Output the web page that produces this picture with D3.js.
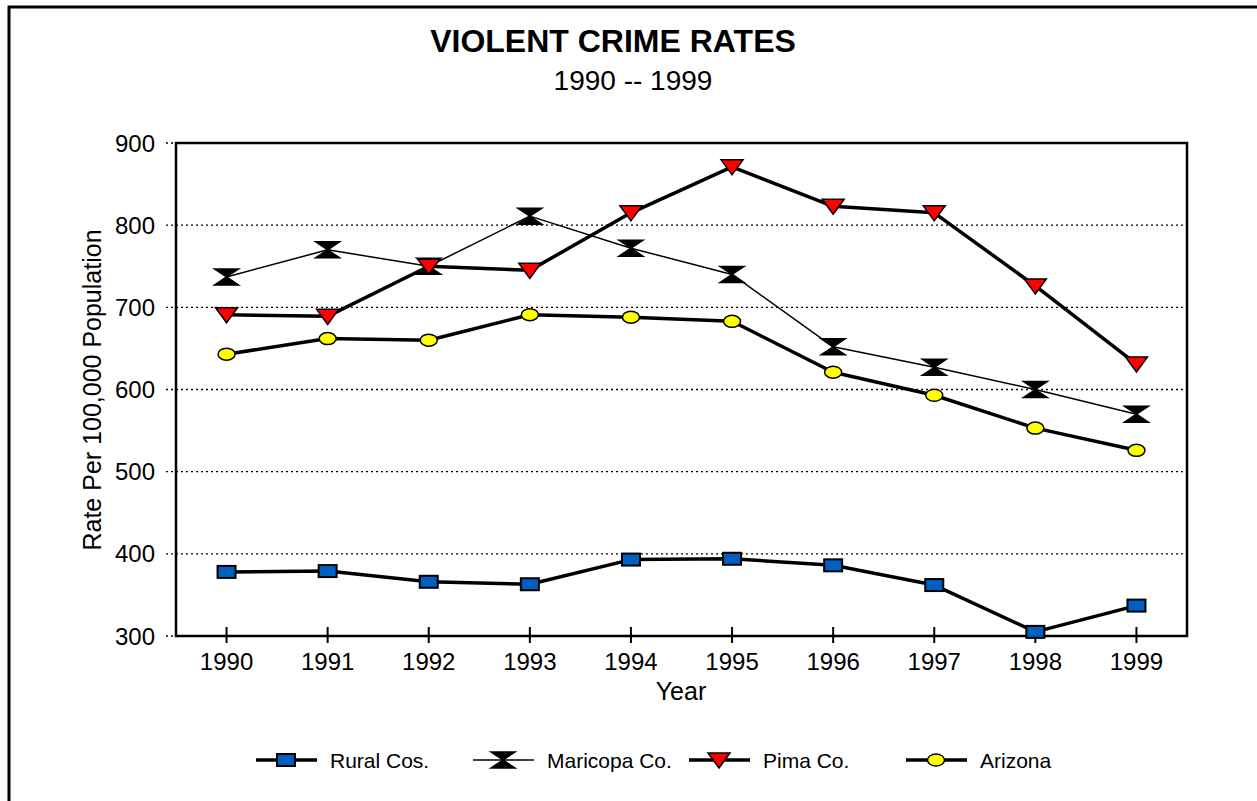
<!DOCTYPE html>
<meta charset="utf-8">
<style>
body { margin: 0; background: #fff; }
text { font-family: "Liberation Sans", Arial, sans-serif; fill: #000; }
.grid line { stroke: #000; stroke-width: 1.3; stroke-dasharray: 2,3; }
</style>
<svg width="1257" height="801"></svg>
<script src="https://d3js.org/d3.v7.min.js"></script>
<script>

var years = ["1990","1991","1992","1993","1994","1995","1996","1997","1998","1999"];
var rural = [378, 379, 366, 363, 393, 394, 386, 362, 305, 337];
var maricopa = [737, 770, 750, 811, 772, 740, 652, 627, 600, 570];
var pima = [691, 689, 750, 745, 815, 871, 823, 815, 726, 631];
var arizona = [643, 662, 660, 691, 688, 683, 621, 593, 553, 526];
var yTicks = [300, 400, 500, 600, 700, 800, 900];

var svg = d3.select("svg");

var plotL = 176, plotT = 143, plotR = 1187, plotB = 636;

var x = d3.scaleBand().domain(years).range([plotL, plotR]);
var y = d3.scaleLinear().domain([300, 900]).range([plotB, plotT]);
function cx(d, i) { return x(years[i]) + x.bandwidth() / 2; }

// outer frame
svg.append("rect")
    .attr("x", 9).attr("y", 7)
    .attr("width", 1300).attr("height", 900)
    .attr("fill", "none").attr("stroke", "#000").attr("stroke-width", 3);

// titles
svg.append("text").attr("x", 613).attr("y", 52)
    .attr("text-anchor", "middle").attr("font-size", 32).attr("font-weight", "bold")
    .text("VIOLENT CRIME RATES");
svg.append("text").attr("x", 633).attr("y", 90)
    .attr("text-anchor", "middle").attr("font-size", 28)
    .text("1990 -- 1999");

// gridlines + y ticks (dotted)
var grid = svg.append("g").attr("class", "grid");
grid.selectAll("line.g")
    .data(yTicks.filter(function(d) { return d > 300 && d < 900; }))
    .enter().append("line")
    .attr("x1", plotL).attr("x2", plotR)
    .attr("y1", function(d) { return y(d); })
    .attr("y2", function(d) { return y(d); });
grid.selectAll("line.t")
    .data(yTicks)
    .enter().append("line")
    .attr("x1", plotL - 10).attr("x2", plotL)
    .attr("y1", function(d) { return y(d); })
    .attr("y2", function(d) { return y(d); });

// plot frame
svg.append("rect")
    .attr("x", plotL).attr("y", plotT)
    .attr("width", plotR - plotL).attr("height", plotB - plotT)
    .attr("fill", "none").attr("stroke", "#000").attr("stroke-width", 2.5);

// y labels
svg.append("g").selectAll("text")
    .data(yTicks)
    .enter().append("text")
    .attr("x", 155)
    .attr("y", function(d) { return y(d) + 8.5; })
    .attr("text-anchor", "end").attr("font-size", 24)
    .text(function(d) { return d; });

// x ticks and labels
var xa = svg.append("g");
xa.selectAll("line")
    .data(years)
    .enter().append("line")
    .attr("x1", function(d, i) { return cx(d, i); })
    .attr("x2", function(d, i) { return cx(d, i); })
    .attr("y1", plotB - 9).attr("y2", plotB + 7)
    .attr("stroke", "#000").attr("stroke-width", 2);
xa.selectAll("text")
    .data(years)
    .enter().append("text")
    .attr("x", function(d, i) { return cx(d, i); })
    .attr("y", 670)
    .attr("text-anchor", "middle").attr("font-size", 24)
    .text(function(d) { return d; });

svg.append("text").attr("x", 681).attr("y", 700)
    .attr("text-anchor", "middle").attr("font-size", 25).text("Year");
svg.append("text")
    .attr("transform", "translate(101,390) rotate(-90)")
    .attr("text-anchor", "middle").attr("font-size", 25)
    .text("Rate Per 100,000 Population");

// markers
function marker(g, type) {
  if (type == "square") {
    g.append("rect").attr("x", -9).attr("y", -6).attr("width", 18).attr("height", 12)
        .attr("fill", "#0060C0").attr("stroke", "#000").attr("stroke-width", 2);
  }
  if (type == "hourglass") {
    g.append("path").attr("d", "M-12,-8 L12,-8 L0,0 L12,8 L-12,8 L0,0 Z")
        .attr("fill", "#000").attr("stroke", "#000").attr("stroke-width", 1.5);
  }
  if (type == "triangle") {
    g.append("path").attr("d", "M-11,-7 L11,-7 L0,8 Z")
        .attr("fill", "#FF0000").attr("stroke", "#000").attr("stroke-width", 1.5);
  }
  if (type == "circle") {
    g.append("ellipse").attr("rx", 8.5).attr("ry", 6)
        .attr("fill", "#FFFF00").attr("stroke", "#000").attr("stroke-width", 1.5);
  }
}

var series = [
  {name: "Rural Cos.", values: rural, marker: "square", width: 3.5},
  {name: "Maricopa Co.", values: maricopa, marker: "hourglass", width: 1.5},
  {name: "Pima Co.", values: pima, marker: "triangle", width: 3.5},
  {name: "Arizona", values: arizona, marker: "circle", width: 3.5}
];

var line = d3.line()
    .x(function(d, i) { return cx(d, i); })
    .y(function(d) { return y(d); });

series.forEach(function(s) {
  svg.append("path")
      .datum(s.values)
      .attr("d", line)
      .attr("fill", "none").attr("stroke", "#000")
      .attr("stroke-width", s.width).attr("stroke-linejoin", "round");
  svg.append("g").selectAll("g")
      .data(s.values)
      .enter().append("g")
      .attr("transform", function(d, i) { return "translate(" + cx(d, i) + "," + y(d) + ")"; })
      .each(function() { marker(d3.select(this), s.marker); });
});

// legend
var legendX = [256, 473, 689, 906];
series.forEach(function(s, i) {
  var g = svg.append("g").attr("transform", "translate(" + legendX[i] + ",760)");
  g.append("line").attr("x1", 0).attr("x2", 61).attr("y1", 0).attr("y2", 0)
      .attr("stroke", "#000").attr("stroke-width", s.width);
  var m = g.append("g").attr("transform", "translate(30,0)");
  marker(m, s.marker);
  g.append("text").attr("x", 74).attr("y", 8).attr("font-size", 21).text(s.name);
});

</script>
